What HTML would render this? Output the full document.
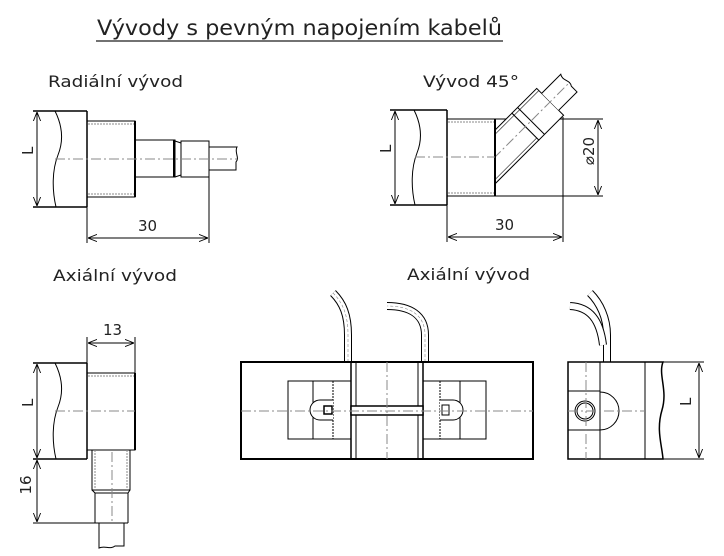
<!DOCTYPE html>
<html><head><meta charset="utf-8"><style>
html,body{margin:0;padding:0;background:#fff;width:724px;height:556px;overflow:hidden}
svg{display:block}
text{font-family:"DejaVu Sans","Liberation Sans",sans-serif;fill:#222}
</style></head><body>
<svg width="724" height="556" viewBox="0 0 724 556" xmlns="http://www.w3.org/2000/svg">
<defs>
<marker id="a" viewBox="0 0 10 10" refX="10" refY="5" markerWidth="9" markerHeight="9" orient="auto-start-reverse" markerUnits="userSpaceOnUse"><path d="M0,1 L10,5 L0,9" fill="none" stroke="#000" stroke-width="1"/></marker>
<clipPath id="c45"><rect x="496" y="60" width="120" height="140"/></clipPath>
</defs>
<g fill="none" stroke="#000" stroke-width="1">
<!-- Title -->
<text x="97" y="35" font-size="21" textLength="405" lengthAdjust="spacingAndGlyphs" stroke="none">Vývody s pevným napojením kabelů</text>
<line x1="96" y1="41" x2="503" y2="41" stroke="#444" stroke-width="1.5"/>

<!-- Radial -->
<text x="48" y="87" font-size="16" textLength="135" lengthAdjust="spacingAndGlyphs" stroke="none">Radiální vývod</text>
<line x1="33" y1="111" x2="87" y2="111" stroke-width="1.5"/>
<line x1="33" y1="207" x2="87" y2="207" stroke-width="1.5"/>
<path d="M55,111 C62,125 64,140 58,155 C52,170 52,190 56,207"/>
<line x1="87" y1="111" x2="87" y2="207" stroke-width="1.5"/>
<rect x="87" y="121" width="48" height="76"/>
<line x1="135" y1="121" x2="135" y2="197" stroke-width="2"/>
<line x1="88" y1="124" x2="134" y2="124" stroke-dasharray="2 1" stroke="#888"/>
<line x1="88" y1="194" x2="134" y2="194" stroke-dasharray="2 1" stroke="#888"/>
<rect x="135" y="140" width="40" height="37"/>
<line x1="174" y1="140" x2="174" y2="177" stroke-width="2"/>
<path d="M175,141 L181,143 L181,175 L175,177"/>
<rect x="181" y="141" width="28" height="36"/>
<path d="M209,147 L237,147 C234,152 240,158 236,162 L236,170 L209,170"/>
<line x1="37" y1="112" x2="37" y2="206" marker-start="url(#a)" marker-end="url(#a)"/>
<text x="33" y="165" font-size="15" transform="rotate(-90 28 160)" stroke="none">L</text>
<line x1="55" y1="159" x2="237" y2="159" stroke="#888" stroke-dasharray="10 3 2 3"/>
<line x1="87" y1="207" x2="87" y2="243"/>
<line x1="209" y1="177" x2="209" y2="243"/>
<line x1="88" y1="238" x2="208" y2="238" marker-start="url(#a)" marker-end="url(#a)"/>
<text x="138" y="231" font-size="15" stroke="none">30</text>

<!-- 45 deg -->
<text x="423" y="87" font-size="16" textLength="96" lengthAdjust="spacingAndGlyphs" stroke="none">Vývod 45°</text>
<line x1="390" y1="110" x2="447" y2="110" stroke-width="1.5"/>
<line x1="390" y1="205" x2="447" y2="205" stroke-width="1.5"/>
<path d="M414,110 C421,124 423,138 417,153 C411,168 411,188 415,205"/>
<line x1="447" y1="110" x2="447" y2="205" stroke-width="1.5"/>
<rect x="447" y="119" width="48" height="77"/>
<line x1="495" y1="119" x2="495" y2="196" stroke-width="2"/>
<line x1="448" y1="122" x2="494" y2="122" stroke-dasharray="2 1" stroke="#888"/>
<line x1="448" y1="193" x2="494" y2="193" stroke-dasharray="2 1" stroke="#888"/>
<line x1="495" y1="119" x2="603" y2="119"/>
<line x1="495" y1="196" x2="603" y2="196"/>
<g clip-path="url(#c45)">
<g transform="translate(495,157) rotate(-45)">
<rect x="-40" y="-19" width="83" height="38" fill="#fff"/>
<line x1="-40" y1="-16" x2="43" y2="-16" stroke-width="0.6"/>
<line x1="-40" y1="16" x2="43" y2="16" stroke-width="0.6"/>
<rect x="43" y="-19" width="35" height="38" fill="#fff"/>
<line x1="51" y1="-19" x2="51" y2="19"/>
<line x1="43" y1="-16" x2="78" y2="-16" stroke-width="0.6"/>
<path d="M78,-12 L105,-12 C101,-6 108,-2 104,4 L104,12 L78,12" fill="#fff"/>
<line x1="-20" y1="0" x2="104" y2="0" stroke="#888" stroke-dasharray="10 3 2 3"/>
</g>
</g>
<line x1="495" y1="119" x2="495" y2="196" stroke-width="2"/>
<line x1="395" y1="111" x2="395" y2="204" marker-start="url(#a)" marker-end="url(#a)"/>
<text x="391" y="163" font-size="15" transform="rotate(-90 386 158)" stroke="none">L</text>
<line x1="415" y1="157" x2="495" y2="157" stroke="#888" stroke-dasharray="10 3 2 3"/>
<line x1="598" y1="120" x2="598" y2="195" marker-start="url(#a)" marker-end="url(#a)"/>
<text x="594" y="163" font-size="15" transform="rotate(-90 588 157)" stroke="none" text-anchor="middle">⌀20</text>
<line x1="447" y1="205" x2="447" y2="242"/>
<line x1="563" y1="117" x2="563" y2="242"/>
<line x1="448" y1="237" x2="562" y2="237" marker-start="url(#a)" marker-end="url(#a)"/>
<text x="495" y="230" font-size="15" stroke="none">30</text>

<!-- Axial left -->
<text x="53" y="281" font-size="16" textLength="124" lengthAdjust="spacingAndGlyphs" stroke="none">Axiální vývod</text>
<text x="103" y="335" font-size="15" stroke="none">13</text>
<line x1="87" y1="337" x2="87" y2="363"/>
<line x1="135" y1="337" x2="135" y2="373"/>
<line x1="88" y1="343" x2="134" y2="343" marker-start="url(#a)" marker-end="url(#a)"/>
<line x1="33" y1="363" x2="87" y2="363" stroke-width="1.5"/>
<line x1="33" y1="459" x2="87" y2="459" stroke-width="1.5"/>
<path d="M55,363 C62,377 64,392 58,407 C52,422 52,442 56,459"/>
<line x1="87" y1="363" x2="87" y2="459" stroke-width="1.5"/>
<rect x="87" y="373" width="48" height="77"/>
<line x1="135" y1="373" x2="135" y2="450" stroke-width="2"/>
<line x1="88" y1="376" x2="134" y2="376" stroke-dasharray="2 1" stroke="#888"/>
<rect x="92" y="450" width="38" height="40"/>
<line x1="95" y1="450" x2="95" y2="490" stroke-dasharray="2 1" stroke="#888"/>
<line x1="127" y1="450" x2="127" y2="490" stroke-dasharray="2 1" stroke="#888"/>
<path d="M92,490 L95,493 L95,523 M130,490 L128,493 L128,523"/>
<line x1="95" y1="493" x2="128" y2="493"/>
<path d="M99,523 L99,548 C105,545 110,550 115,546 L124,546 L124,523"/>
<line x1="33" y1="523" x2="128" y2="523"/>
<line x1="37" y1="364" x2="37" y2="458" marker-start="url(#a)" marker-end="url(#a)"/>
<line x1="37" y1="460" x2="37" y2="522" marker-start="url(#a)" marker-end="url(#a)"/>
<text x="33" y="417" font-size="15" transform="rotate(-90 28 412)" stroke="none">L</text>
<text x="31" y="495" font-size="15" transform="rotate(-90 26 490)" stroke="none" text-anchor="middle">16</text>
<line x1="55" y1="411" x2="135" y2="411" stroke="#888" stroke-dasharray="10 3 2 3"/>
<line x1="112" y1="452" x2="112" y2="522" stroke="#888" stroke-dasharray="10 3 2 3"/>

<!-- Axial big -->
<text x="407" y="280" font-size="16" textLength="123" lengthAdjust="spacingAndGlyphs" stroke="none">Axiální vývod</text>
<path d="M348,362 L348,335 C348,315 343,303 333,293" stroke="#000" stroke-width="8"/>
<path d="M348,362 L348,335 C348,315 343,303 333,293" stroke="#fff" stroke-width="6"/>
<path d="M348,362 L348,335 C348,315 343,303 333,293" stroke="#888" stroke-width="0.6" stroke-dasharray="3 2"/>
<path d="M425,362 L425,335 C425,315 410,306 387,306" stroke="#000" stroke-width="8"/>
<path d="M425,362 L425,335 C425,315 410,306 387,306" stroke="#fff" stroke-width="6"/>
<path d="M425,362 L425,335 C425,315 410,306 387,306" stroke="#888" stroke-width="0.6" stroke-dasharray="3 2"/>
<rect x="241" y="362" width="292" height="97" stroke-width="2"/>
<line x1="351" y1="362" x2="351" y2="459" stroke-width="1.5"/>
<line x1="356" y1="362" x2="356" y2="459"/>
<line x1="418" y1="362" x2="418" y2="459"/>
<line x1="423" y1="362" x2="423" y2="459" stroke-width="1.5"/>
<rect x="288" y="381" width="63" height="58"/>
<line x1="313" y1="381" x2="313" y2="439"/>
<line x1="333" y1="381" x2="333" y2="439" stroke-dasharray="2 1"/>
<rect x="423" y="381" width="63" height="58"/>
<line x1="460" y1="381" x2="460" y2="439"/>
<line x1="440" y1="381" x2="440" y2="439" stroke-dasharray="2 1"/>
<rect x="351" y="406" width="72" height="9" fill="#fff" stroke-width="1.5"/>
<path d="M333,400 L320,400 A10,10 0 0 0 320,420 L333,420" fill="#fff"/>
<rect x="324" y="406" width="8" height="8" stroke-width="1.5"/>
<path d="M440,400 L453,400 A10,10 0 0 1 453,420 L440,420" fill="#fff"/>
<rect x="442" y="405" width="7" height="10"/>
<line x1="241" y1="411" x2="533" y2="411" stroke="#888" stroke-dasharray="10 3 2 3"/>
<line x1="387" y1="362" x2="387" y2="459" stroke="#888" stroke-dasharray="10 3 2 3"/>

<!-- Side view -->
<path d="M607,362 L607,335 C607,318 600,303 590,293" stroke="#000" stroke-width="8"/>
<path d="M607,362 L607,335 C607,318 600,303 590,293" stroke="#fff" stroke-width="6"/>
<path d="M603,345 C600,320 590,307 570,306" stroke="#000" stroke-width="8"/>
<path d="M603,345 C600,320 590,307 570,306" stroke="#fff" stroke-width="6"/>
<path d="M568,362 L663,362 C658,375 668,390 662,410 C656,430 662,445 663,459 L568,459 Z" stroke-width="1.5"/>
<line x1="600" y1="362" x2="600" y2="459"/>
<line x1="645" y1="362" x2="645" y2="459"/>
<rect x="568" y="391" width="32" height="39"/>
<path d="M600,392 A19,19 0 0 1 600,430"/>
<circle cx="585" cy="411" r="10"/>
<circle cx="585" cy="411" r="8"/>
<line x1="586" y1="362" x2="586" y2="459" stroke="#888" stroke-dasharray="10 3 2 3"/>
<line x1="568" y1="411" x2="645" y2="411" stroke="#888" stroke-dasharray="10 3 2 3"/>
<line x1="663" y1="362" x2="704" y2="362"/>
<line x1="663" y1="459" x2="704" y2="459"/>
<line x1="699" y1="363" x2="699" y2="458" marker-start="url(#a)" marker-end="url(#a)"/>
<text x="691" y="416" font-size="15" transform="rotate(-90 686 411)" stroke="none">L</text>
</g>
</svg>
</body></html>
